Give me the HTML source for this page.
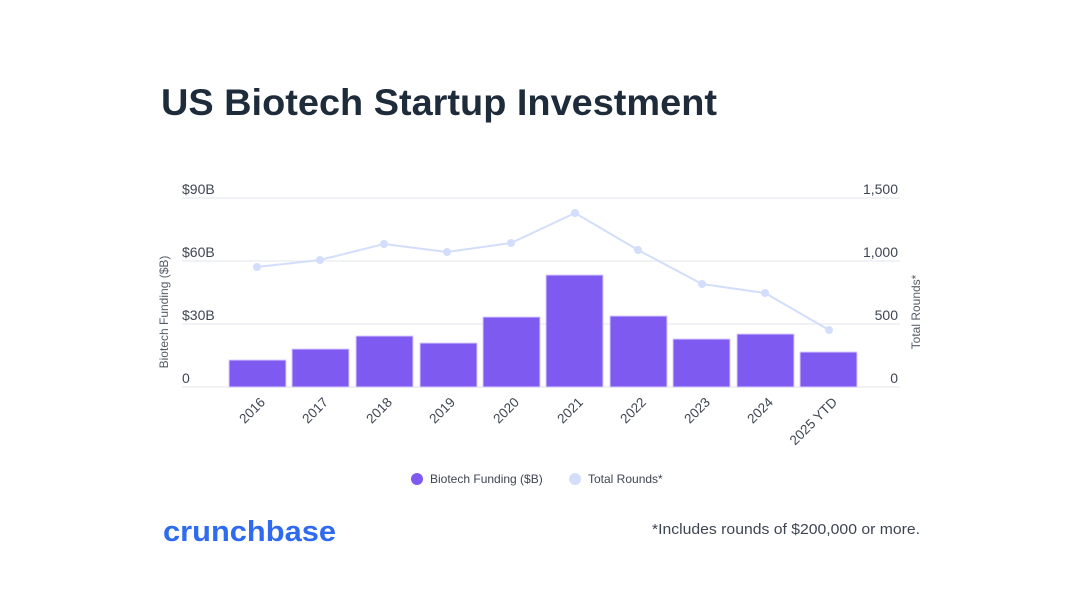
<!DOCTYPE html>
<html><head><meta charset="utf-8"><style>
body{margin:0;background:#fff;width:1080px;height:597px;overflow:hidden;font-family:"Liberation Sans",sans-serif}
</style></head><body>
<svg width="1080" height="597" viewBox="0 0 1080 597" xmlns="http://www.w3.org/2000/svg" font-family="Liberation Sans, sans-serif">
<text x="161" y="115" font-size="37" font-weight="bold" fill="#1d2b3a" textLength="556" lengthAdjust="spacingAndGlyphs">US Biotech Startup Investment</text>
<g stroke="#eceef2" stroke-width="1.5">
<line x1="182" y1="198" x2="900" y2="198"/><line x1="182" y1="261" x2="900" y2="261"/>
<line x1="182" y1="324" x2="900" y2="324"/><line x1="182" y1="387" x2="900" y2="387"/>
</g>
<g font-size="14" fill="#3e4552">
<text x="182" y="194">$90B</text><text x="182" y="257">$60B</text><text x="182" y="320">$30B</text><text x="182" y="383">0</text>
<text x="898" y="194" text-anchor="end">1,500</text><text x="898" y="257" text-anchor="end">1,000</text><text x="898" y="320" text-anchor="end">500</text><text x="898" y="383" text-anchor="end">0</text>
</g>
<text transform="translate(168,312) rotate(-90)" text-anchor="middle" font-size="12" fill="#555c68">Biotech Funding ($B)</text>
<text transform="translate(920,312) rotate(-90)" text-anchor="middle" font-size="12" fill="#555c68">Total Rounds*</text>
<g fill="#7f5af0" stroke="#d9ccff" stroke-width="1">
<rect x="229" y="360" width="57" height="27"/><rect x="292" y="349" width="57" height="38"/>
<rect x="356" y="336" width="57" height="51"/><rect x="420" y="343" width="57" height="44"/>
<rect x="483" y="317" width="57" height="70"/><rect x="546" y="275" width="57" height="112"/>
<rect x="610" y="316" width="57" height="71"/><rect x="673" y="339" width="57" height="48"/>
<rect x="737" y="334" width="57" height="53"/><rect x="800" y="352" width="57" height="35"/>
</g>
<polyline fill="none" stroke="#d3defc" stroke-width="2" points="257,267 320,260 384,244 447,252 511,243 575,213 638,250 702,284 765,293 829,330"/>
<g fill="#d3defc">
<circle cx="257" cy="267" r="4"/><circle cx="320" cy="260" r="4"/><circle cx="384" cy="244" r="4"/><circle cx="447" cy="252" r="4"/><circle cx="511" cy="243" r="4"/><circle cx="575" cy="213" r="4"/><circle cx="638" cy="250" r="4"/><circle cx="702" cy="284" r="4"/><circle cx="765" cy="293" r="4"/><circle cx="829" cy="330" r="4"/>
</g>
<g font-size="13.5" fill="#3e4552" text-anchor="end">
<text transform="translate(266,403) rotate(-45)">2016</text>
<text transform="translate(329,403) rotate(-45)">2017</text>
<text transform="translate(393,403) rotate(-45)">2018</text>
<text transform="translate(456,403) rotate(-45)">2019</text>
<text transform="translate(520,403) rotate(-45)">2020</text>
<text transform="translate(584,403) rotate(-45)">2021</text>
<text transform="translate(647,403) rotate(-45)">2022</text>
<text transform="translate(711,403) rotate(-45)">2023</text>
<text transform="translate(774,403) rotate(-45)">2024</text>
<text transform="translate(838,403) rotate(-45)">2025 YTD</text>
</g>
<circle cx="417" cy="479" r="6" fill="#7f5af0"/>
<text x="430" y="483" font-size="12" fill="#3e4552">Biotech Funding ($B)</text>
<circle cx="575" cy="479" r="6" fill="#d3defc"/>
<text x="588" y="483" font-size="12" fill="#3e4552">Total Rounds*</text>
<text x="163" y="541" font-size="29" font-weight="bold" fill="#2f6bf0" textLength="173" lengthAdjust="spacingAndGlyphs">crunchbase</text>
<text x="920" y="534" font-size="15" fill="#3e4552" text-anchor="end" textLength="268" lengthAdjust="spacingAndGlyphs">*Includes rounds of $200,000 or more.</text>
</svg>
</body></html>
